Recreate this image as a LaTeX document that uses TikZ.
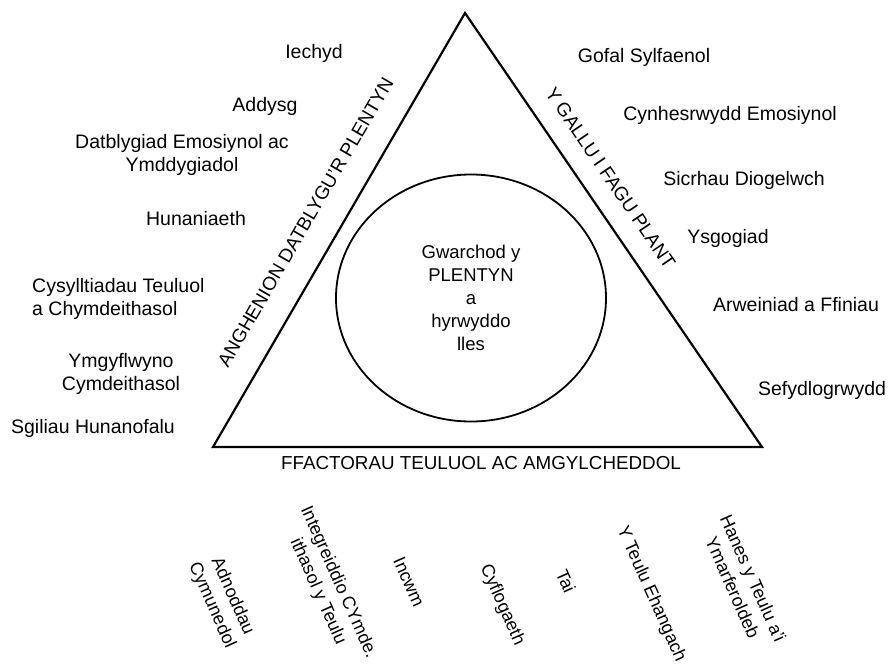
\documentclass[tikz,border=0pt]{standalone}
\usepackage{fontspec}
\setmainfont{Liberation Sans}
\usetikzlibrary{positioning,shapes.geometric}

\begin{document}
\begin{tikzpicture}[x=1pt, y=-1pt, inner sep=0pt]
  \useasboundingbox (0,0) rectangle (888,667);
  % Styles
  \tikzstyle{item}=[font=\fontsize{19.5}{23}\selectfont, align=center]
  \tikzstyle{itemL}=[font=\fontsize{19.5}{23}\selectfont, align=left, anchor=west]
  \tikzstyle{side}=[font=\fontsize{19}{23}\selectfont, sloped]
  \tikzstyle{factor}=[font=\fontsize{18}{22.5}\selectfont, align=center, rotate=-66]
  \tikzstyle{core}=[ellipse, draw, line width=1.8pt, minimum width=270pt, minimum height=247pt, align=center, font=\fontsize{18.5}{23}\selectfont]

  % Triangle
  \coordinate (top) at (465,13);
  \coordinate (baseL) at (213,447);
  \coordinate (baseR) at (762,447);
  \draw[line width=2.2pt, line join=miter] (baseL) -- (top) -- (baseR) -- cycle;

  % Child at the centre
  \node[core] (child) at (471,298) {Gwarchod y\\PLENTYN\\a\\hyrwyddo\\lles};

  % Sides of the triangle
  \path (baseL) -- (top) node[side, pos=0.48, above=26pt] (needs) {ANGHENION DATBLYGU'R PLENTYN};
  \path (top) -- (baseR) node[side, pos=0.415, above=20pt] (capacity) {Y GALLU I FAGU PLANT};
  \node[item, font=\fontsize{18.8}{23}\selectfont] (factors) at (481,463) {FFACTORAU TEULUOL AC AMGYLCHEDDOL};

  % Child's developmental needs
  \node[item] (health) at (314,53) {Iechyd};
  \node[item] (educ) at (265,106) {Addysg};
  \node[item] (emot) at (182,155) {Datblygiad Emosiynol ac\\Ymddygiadol};
  \node[item] (ident) at (196,219) {Hunaniaeth};
  \node[itemL] (relat) at (32,299) {Cysylltiadau Teuluol\\ a Chymdeithasol};
  \node[item] (present) at (121,374) {Ymgyflwyno\\Cymdeithasol};
  \node[item] (selfcare) at (93,428) {Sgiliau Hunanofalu};

  % Parenting capacity
  \node[item] (basic) at (644,57) {Gofal Sylfaenol};
  \node[item] (warmth) at (730,115) {Cynhesrwydd Emosiynol};
  \node[item] (safety) at (744,180) {Sicrhau Diogelwch};
  \node[item] (stimul) at (728,238) {Ysgogiad};
  \node[item] (guide) at (796,305) {Arweiniad a Ffiniau};
  \node[item] (stable) at (822,390) {Sefydlogrwydd};

  % Family and environmental factors
  \node[factor] (resources) at (222,601) {Adnoddau\\Cymunedol};
  \node[factor] (integr) at (328,587) {Integreiddio CYmde.\\ithasol y Teulu};
  \node[factor] (income) at (409,582) {Incwm};
  \node[factor] (employ) at (502,605) {Cyflogaeth};
  \node[factor] (housing) at (566,581) {Tai};
  \node[factor] (wider) at (651,594) {Y Teulu Ehangach};
  \node[factor] (history) at (743,583) {Hanes y Teulu a'i\\Ymarferoldeb};
\end{tikzpicture}
\end{document}
